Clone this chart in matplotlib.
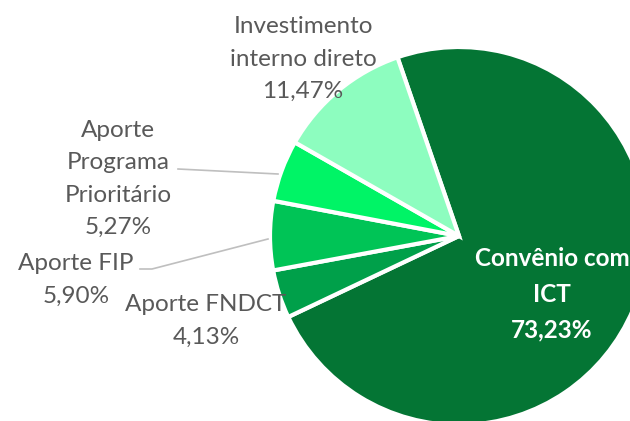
import matplotlib
matplotlib.use("Agg")
import matplotlib.pyplot as plt

categories = ["Convênio com ICT", "Aporte FNDCT", "Aporte FIP",
              "Aporte Programa Prioritário", "Investimento interno direto"]
values = [73.23, 4.13, 5.90, 5.27, 11.47]
value_labels = ["73,23%", "4,13%", "5,90%", "5,27%", "11,47%"]
colors = ["#047534", "#00A04A", "#00C456", "#00F466", "#8DFDBF"]

plt.rcParams['font.family'] = ['Lato', 'DejaVu Sans']

W, H = 630, 421
fig = plt.figure(figsize=(W / 100, H / 100), dpi=100)
ax = fig.add_axes([0, 0, 1, 1])

def py(y):
    return H - y

ax.pie(values, colors=colors, center=(459, py(236)), radius=189,
       startangle=109, counterclock=False,
       wedgeprops=dict(edgecolor="white", linewidth=3))
ax.set_xlim(0, W)
ax.set_ylim(0, H)
ax.set_aspect("equal")
ax.axis("off")

gray = "#595959"
fs = 17.5
ls = 1.68

def lab(x, y, s, **kw):
    ax.text(x, py(y), s, ha="center", va="center", fontsize=fs,
            linespacing=ls, **kw)

lab(303, 59, "Investimento\ninterno direto\n" + value_labels[4], color=gray)
lab(118, 179, "Aporte\nPrograma\nPrioritário\n" + value_labels[3], color=gray)
lab(76, 280, "Aporte FIP\n" + value_labels[2], color=gray)
lab(206, 321, "Aporte FNDCT\n" + value_labels[1], color=gray)
lab(552, 294, "Convênio com\nICT\n" + value_labels[0], color="white",
    fontweight="bold")

# leader lines
ax.plot([178, 278], [py(169), py(174)], color="#BFBFBF", lw=1.2)
ax.plot([140, 152, 268], [py(269), py(269), py(239)], color="#BFBFBF", lw=1.2)

fig.savefig("out.png", dpi=100)
